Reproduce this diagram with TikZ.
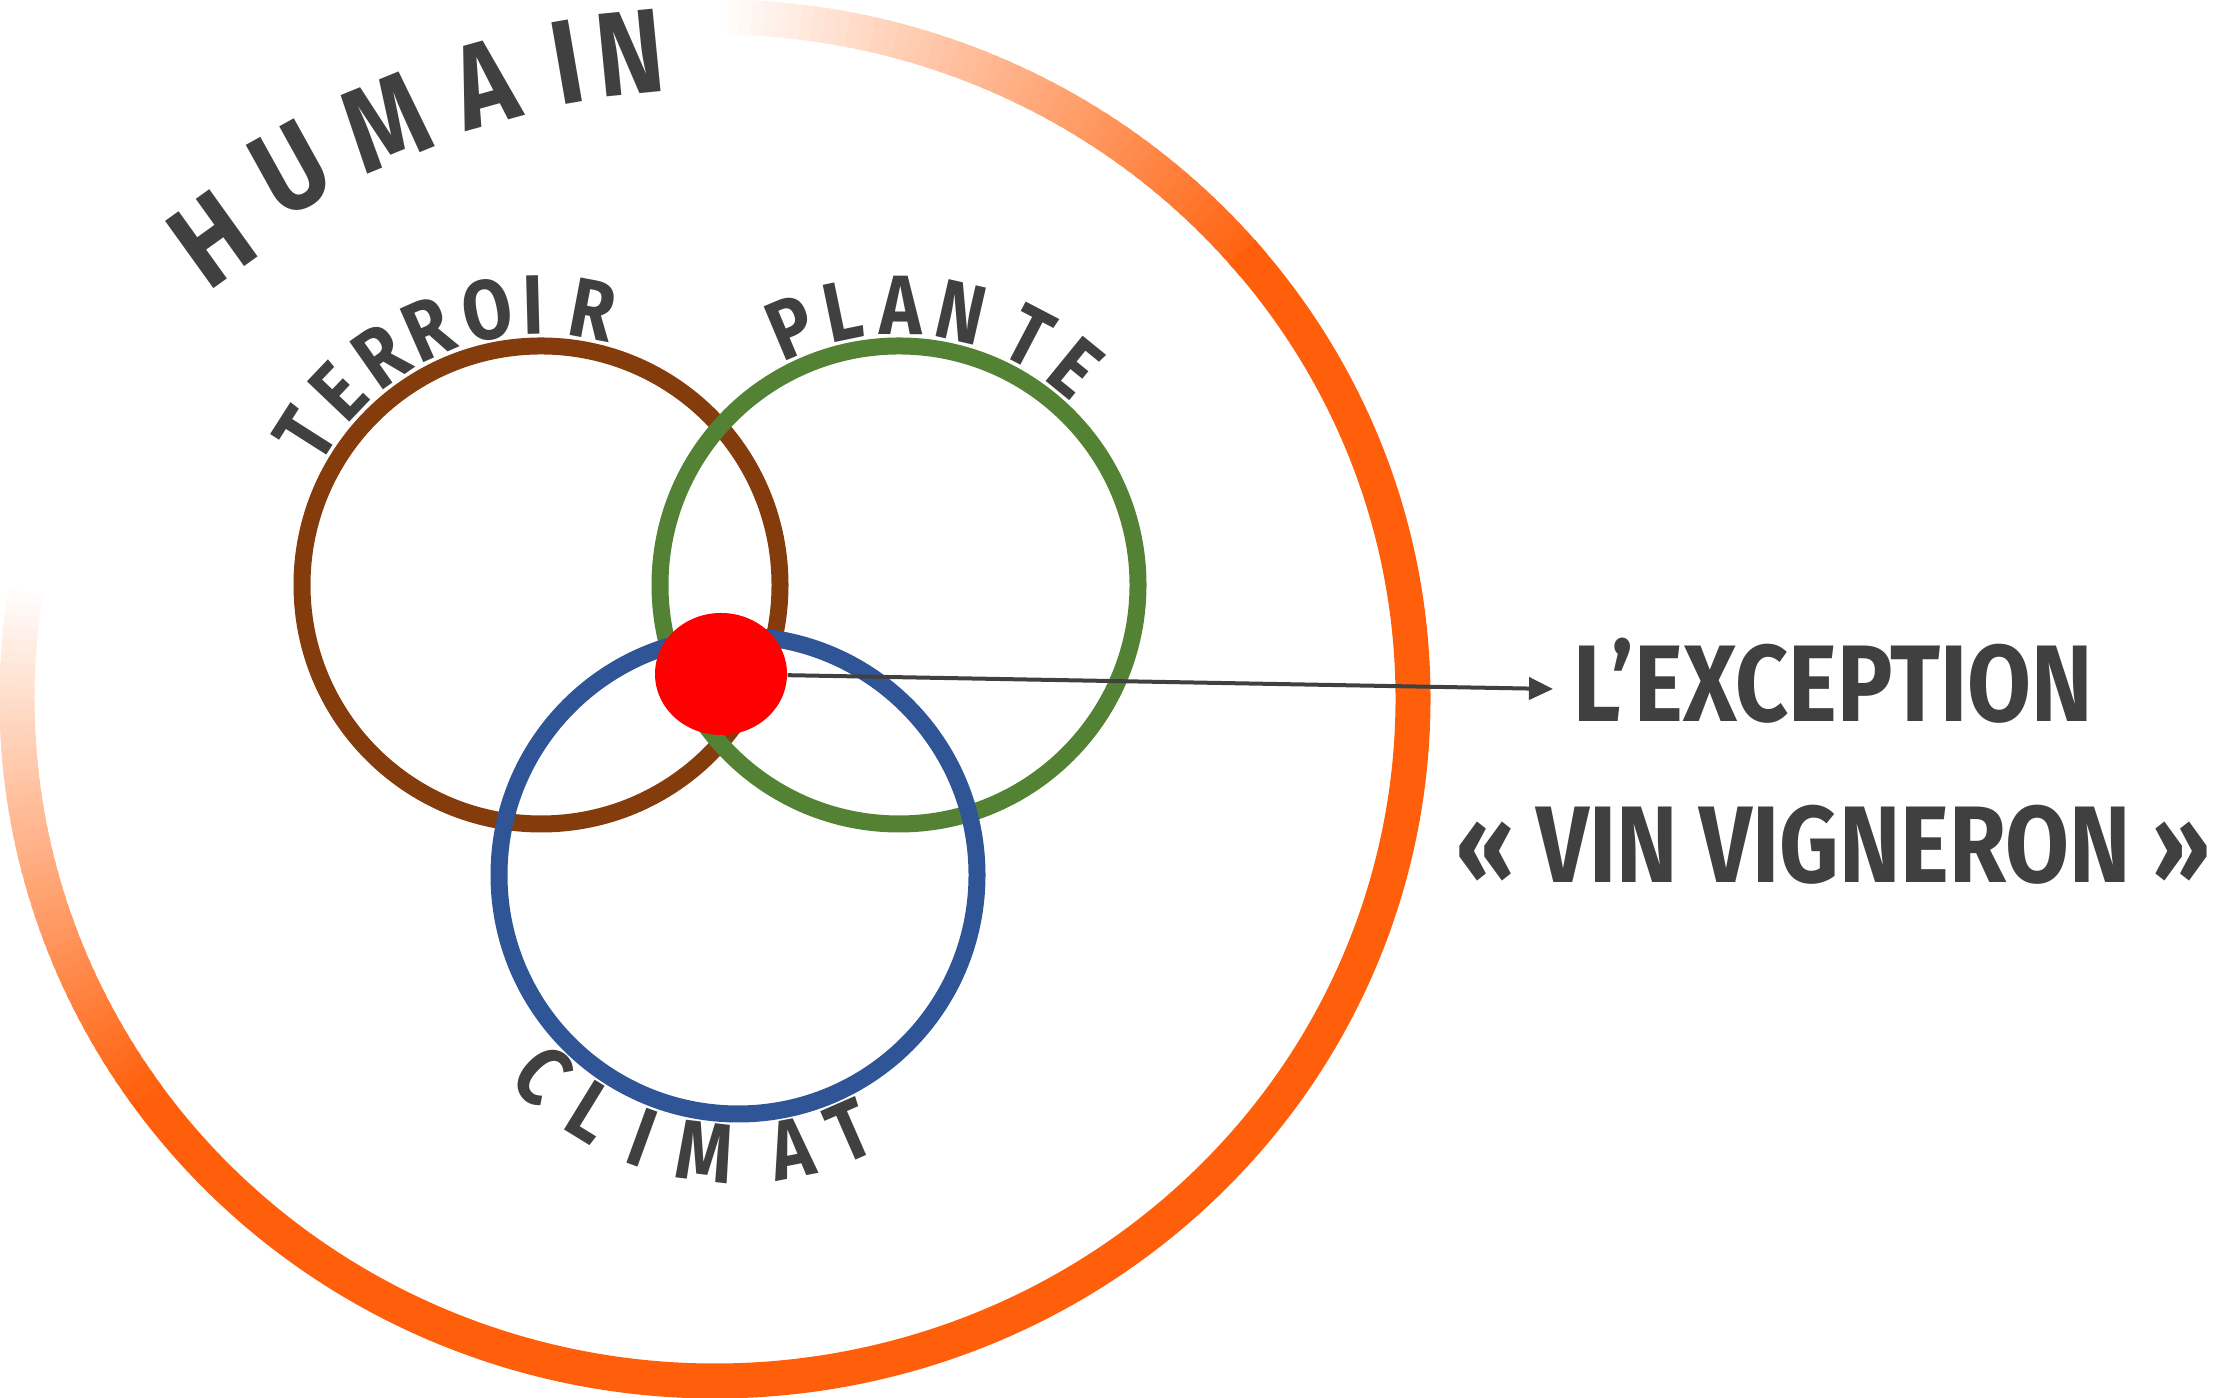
\documentclass[tikz,border=0pt]{standalone}
\usepackage{fontspec}
\newfontfamily\handfont[FakeStretch=0.85]{Fira Sans}
\usepackage{tikz}
\usetikzlibrary{arrows.meta, shapes.geometric, positioning, calc}
\usepackage{xcolor}

\definecolor{ringorange}{HTML}{FF5F0A}
\definecolor{terroirbrown}{HTML}{843C0C}
\definecolor{plantegreen}{HTML}{548235}
\definecolor{climatblue}{HTML}{2F5597}
\definecolor{textgray}{HTML}{404040}

\begin{document}
\begin{tikzpicture}[>={Triangle[length=0.24cm,width=0.22cm]},
    venn/.style={circle, draw, line width=0.17cm, minimum size=4.78cm, inner sep=0pt},
    ring/.style={ringorange, line width=0.35cm},
    curved/.style={text=textgray, inner sep=0pt, font=\handfont\bfseries\fontsize{24}{24}\selectfont},
    bigcurved/.style={text=textgray, inner sep=0pt, font=\handfont\bfseries\fontsize{34}{34}\selectfont},
    bigtext/.style={text=textgray, inner sep=0pt, font=\handfont\bfseries\fontsize{31}{31}\selectfont}]
  \useasboundingbox (0,0) rectangle (22.14,13.98);

  % humain ring, faded at both ends
  \coordinate (ctr) at (7.15,6.99);
  \foreach \a in {90,89,...,41}{
    \pgfmathsetmacro\p{(90-\a)*2}
    \draw[ring, draw=ringorange!\p!white] (ctr) ++(\a:6.98 and 6.82) arc[start angle=\a, end angle=\a-1.5, x radius=6.98, y radius=6.82];
  }
  \draw[ring] (ctr) ++(41:6.98 and 6.82) arc[start angle=41, end angle=-145, x radius=6.98, y radius=6.82];
  \foreach \a in {170,171,...,214}{
    \pgfmathsetmacro\p{(\a-170)*100/45}
    \draw[ring, draw=ringorange!\p!white] (ctr) ++(\a:6.98 and 6.82) arc[start angle=\a, end angle=\a+1.5, x radius=6.98, y radius=6.82];
  }

  \node[venn, terroirbrown] (terroir) at (5.41,8.13) {};
  \node[venn, plantegreen] (plante) at (8.99,8.13) {};
  \node[venn, climatblue] (climat) at (7.38,5.23) {};

  \node[ellipse, fill=red, minimum width=1.32cm, minimum height=1.22cm, inner sep=0pt] (blob) at (7.21,7.24) {};

  \coordinate (tip) at (15.53,7.09);
  \draw[->, line width=0.04cm, textgray] (blob) -- (tip);

  \node[bigtext, right=0.2cm of tip, yshift=0.08cm] (exception) {L’EXCEPTION};
  \node[bigtext, below=0.8cm of exception] (vigneron) {« VIN VIGNERON »};

  % letters along the arcs
  \foreach \ch/\a/\r [count=\i] in {H/137.6/6.82, U/128.7/6.79, M/119.7/6.64, A/110.6/6.57, I/103.1/6.54, N/97.5/6.52}
    \node[bigcurved, rotate={(\a-90)*0.75}] (hum\i) at ([shift={(\a:\r)}]ctr) {\ch};
  \foreach \ch/\a [count=\i] in {T/147.5, E/136.4, R/125, R/113.8, O/101, I/91.5, R/79.3}
    \node[curved, rotate=\a-90] (ter\i) at ([shift={(\a:2.8)}]terroir.center) {\ch};
  \foreach \ch/\a [count=\i] in {P/112.8, L/101.7, A/89.7, N/77.1, T/62.4, E/50.8}
    \node[curved, rotate=\a-90] (pla\i) at ([shift={(\a:2.8)}]plante.center) {\ch};
  \foreach \ch/\a [count=\i] in {C/225.7, L/238.4, I/250, M/263.2, A/281, T/293.6}
    \node[curved, rotate=\a+90] (cli\i) at ([shift={(\a:2.79)}]climat.center) {\ch};
\end{tikzpicture}
\end{document}
